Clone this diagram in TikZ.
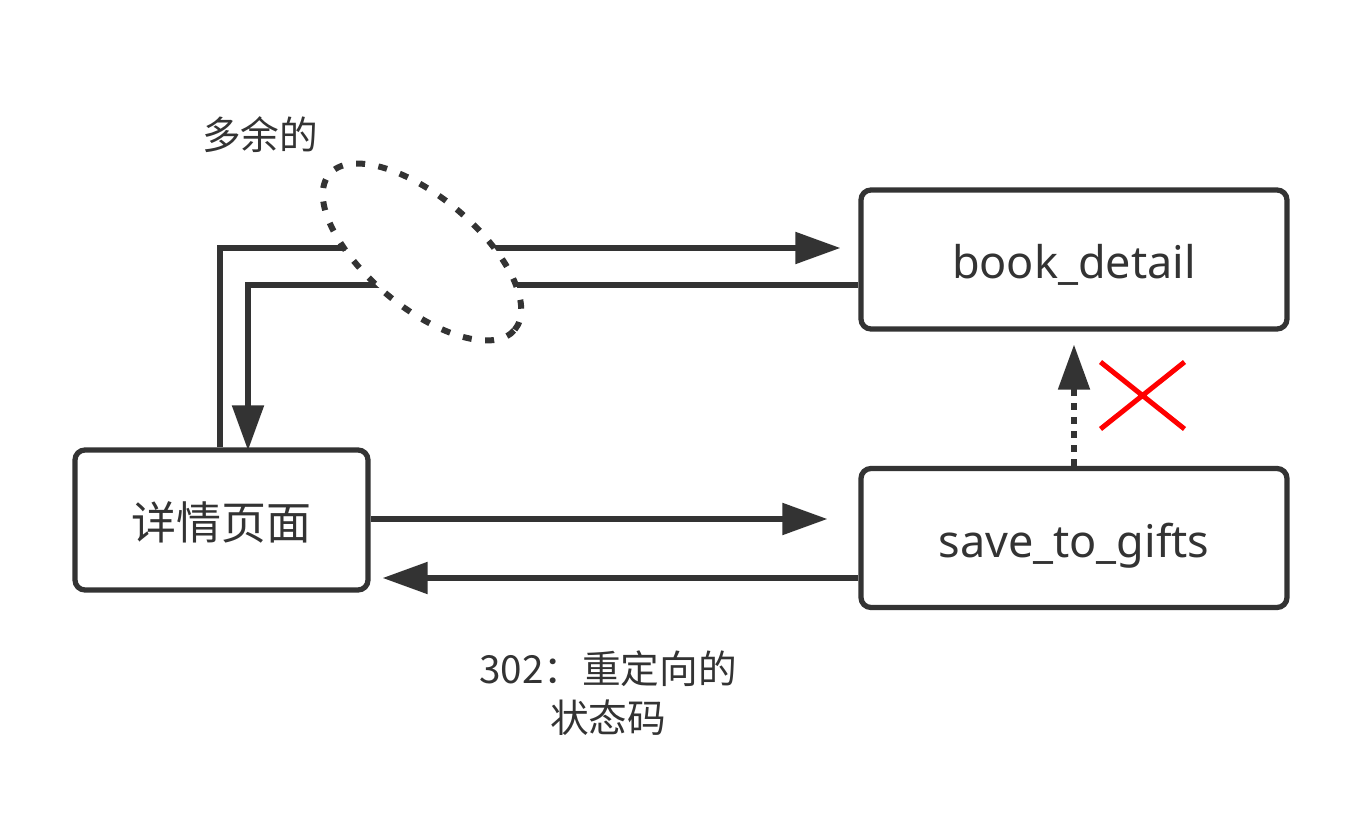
\documentclass[tikz,border=0pt]{standalone}
\usepackage{fontspec}
\setmainfont{Noto Sans}
\newfontfamily\cjk{Noto Sans CJK SC}
\usetikzlibrary{arrows.meta,shapes.geometric,shapes.misc,calc}
\definecolor{ink}{HTML}{333333}

\begin{document}
\begin{tikzpicture}[
        ink,
        line width=0.105cm,
        box/.style={draw=ink, rounded corners=0.2cm, minimum width=8.52cm, minimum height=2.78cm,
            text height=0.9cm, text depth=0.14cm,
            text=ink, font=\fontsize{25.6}{30}\selectfont},
        arrow/.style={-{Triangle[length=0.9cm, width=0.62cm]}, draw=ink},
        note/.style={text=ink, font=\cjk\fontsize{22}{28}\selectfont, align=center}
    ]
        \useasboundingbox (0,0) rectangle (27.24,16.5);

        % Cajas
        \node[box, minimum width=5.86cm, minimum height=2.8cm, font=\cjk\fontsize{25.6}{30}\selectfont] (page) at (4.43,6.1) {详情页面};
        \node[box] (book) at (21.48,11.31) {book\_detail};
        \node[box] (gifts) at (21.48,5.74) {save\_to\_gifts};

        % Ida y vuelta a book_detail
        \draw[arrow, shorten >=0.36cm] ([xshift=-0.03cm]page.north) |- ([yshift=0.23cm]book.west);
        \draw[arrow, shorten >=-0.06cm] ([yshift=-0.51cm]book.west) -| ([xshift=0.53cm]page.north);

        % Ida y vuelta a save_to_gifts
        \draw[arrow, shorten >=0.62cm] ([yshift=0.02cm]page.east) -- ([yshift=0.02cm]page.east -| gifts.west);
        \draw[arrow, shorten >=0.24cm] ([yshift=-0.8cm]gifts.west) -- ([yshift=-0.8cm]gifts.west -| page.east);

        % Redireccion bloqueada
        \draw[arrow, dash pattern=on 0.14cm off 0.14cm, shorten >=0.26cm] (gifts.north) -- (book.south);
        \node[cross out, draw=red, line width=0.1cm, minimum width=1.58cm, minimum height=1.24cm] (cross) at (22.85,8.59) {};

        % Marca de lo que sobra
        \node[ellipse, draw=ink, fill=white, rotate=-40, inner sep=0pt, minimum width=4.84cm, minimum height=2.2cm,
            line width=0.12cm, dash pattern=on 0.18cm off 0.27cm] (extra) at (8.44,11.46) {};

        % Notas
        \node[note] (extralabel) at (5.2,13.8) {多余的};
        \node[note] (codelabel) at (12.16,2.64) {302：重定向的\\状态码};
    \end{tikzpicture}
\end{document}
